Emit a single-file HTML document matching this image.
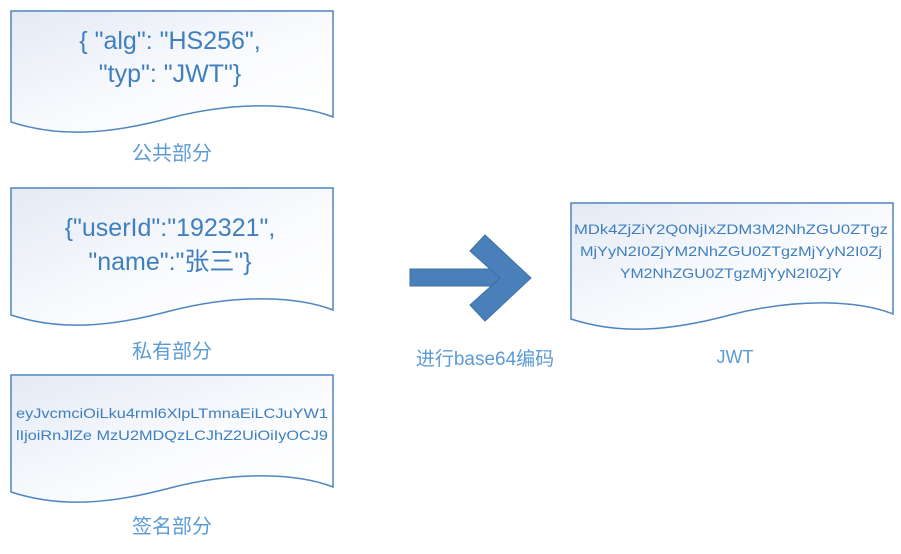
<!DOCTYPE html>
<html><head><meta charset="utf-8"><style>
body{margin:0;background:#fff;width:901px;height:549px;overflow:hidden}
</style></head><body>
<svg width="901" height="549" viewBox="0 0 901 549" xmlns="http://www.w3.org/2000/svg" font-family="'Liberation Sans','Noto Sans CJK SC',sans-serif">
<defs>
<linearGradient id="g" x1="0" y1="0" x2="1" y2="1">
<stop offset="0" stop-color="#e4eaf4"/><stop offset="0.6" stop-color="#fbfcfe"/><stop offset="1" stop-color="#fff"/>
</linearGradient>
</defs>
<g fill="url(#g)" stroke="#4f86c0" stroke-width="1.5">
<path d="M11 11 H333 V117 C300 104 240 100 170 118 C110 134 60 138 11 122 Z"/>
<path d="M11 188 H333 V310 C300 297 240 293 170 311 C110 327 60 331 11 315 Z"/>
<path d="M11 375 H333 V487 C300 474 240 470 170 488 C110 504 60 508 11 492 Z"/>
<path d="M571 203 H893 V314 C860 301 800 297 730 315 C670 331 620 335 571 319 Z"/>
</g>
<g fill="#3f7fbf" text-anchor="middle">
<text x="170" y="49" font-size="25">{ "alg": "HS256",</text>
<text x="170" y="82" font-size="25">"typ": "JWT"}</text>
<text x="170" y="236" font-size="25">{"userId":"192321",</text>
<text x="170" y="270" font-size="25">"name":"张三"}</text>
<text x="172" y="418" font-size="14" textLength="312" lengthAdjust="spacingAndGlyphs">eyJvcmciOiLku4rml6XlpLTmnaEiLCJuYW1</text>
<text x="172" y="440" font-size="14" textLength="312" lengthAdjust="spacingAndGlyphs">lIjoiRnJlZe  MzU2MDQzLCJhZ2UiOiIyOCJ9</text>
<text x="731" y="234" font-size="14" textLength="314" lengthAdjust="spacingAndGlyphs">MDk4ZjZiY2Q0NjIxZDM3M2NhZGU0ZTgz</text>
<text x="731" y="256" font-size="14" textLength="302" lengthAdjust="spacingAndGlyphs">MjYyN2I0ZjYM2NhZGU0ZTgzMjYyN2I0Zj</text>
<text x="731" y="278" font-size="14" textLength="222" lengthAdjust="spacingAndGlyphs">YM2NhZGU0ZTgzMjYyN2I0ZjY</text>
</g>
<g fill="#5b9bd5" text-anchor="middle" font-size="20">
<text x="172" y="160">公共部分</text>
<text x="172" y="358">私有部分</text>
<text x="172" y="533">签名部分</text>
<text x="735" y="363" font-size="18">JWT</text>
<text x="485" y="365" font-size="19">进行base64编码</text>
</g>
<g fill="#4a80b9" stroke="#3d6fa3" stroke-width="1">
<rect x="410" y="269" width="92" height="17"/>
<polygon points="470,251 485,235 531,278 485,321 470,305 500,278"/>
</g>
</svg>
</body></html>
